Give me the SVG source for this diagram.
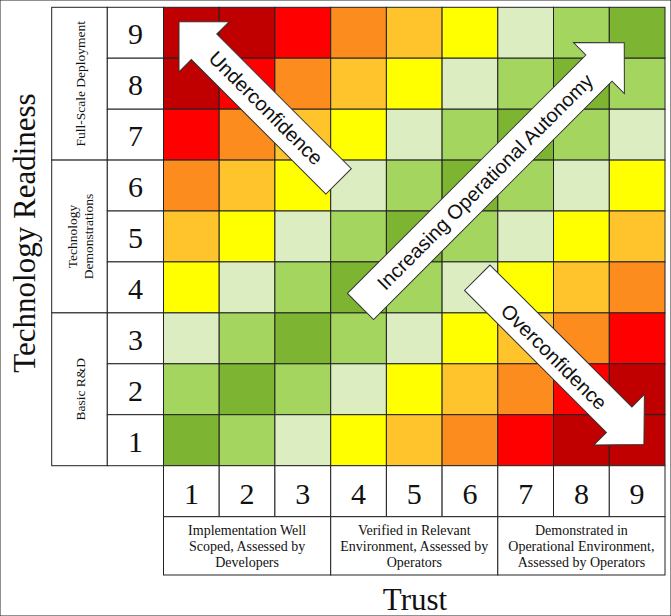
<svg xmlns="http://www.w3.org/2000/svg" width="671" height="616" viewBox="0 0 671 616">
<style>
.c0{fill:#7DB432}.c1{fill:#A3D55F}.c2{fill:#DCEDC2}.c3{fill:#FFFF00}.c4{fill:#FFC42B}.c5{fill:#FC8C1E}.c6{fill:#FF0000}.c7{fill:#C00000}.c8{fill:#C00000}
rect{stroke:#222;stroke-width:1}
.box{fill:#fff}
.num{font-family:"Liberation Serif","Times New Roman",serif;font-size:30px;fill:#111;text-anchor:middle}
.small{font-family:"Liberation Serif","Times New Roman",serif;font-size:13.5px;fill:#111;text-anchor:middle}
.desc{font-family:"Liberation Serif","Times New Roman",serif;font-size:14px;fill:#111;text-anchor:middle}
.big{font-family:"Liberation Serif","Times New Roman",serif;font-size:31px;fill:#111;text-anchor:middle}
.arrow{fill:#fff;stroke:#333;stroke-width:1}
.atext{font-family:"Liberation Sans",Arial,sans-serif;font-size:20px;fill:#111;text-anchor:middle}
</style>
<rect x="0" y="0" width="671" height="616" fill="#fff" stroke="none"/>
<g id="matrix">
<g transform="translate(0,7.3)">
<rect class="c8" x="163.5" width="55.7" height="50.9"/><rect class="c7" x="219.2" width="55.7" height="50.9"/><rect class="c6" x="274.9" width="55.8" height="50.9"/><rect class="c5" x="330.7" width="55.7" height="50.9"/><rect class="c4" x="386.4" width="55.7" height="50.9"/><rect class="c3" x="442.1" width="55.7" height="50.9"/><rect class="c2" x="497.8" width="55.7" height="50.9"/><rect class="c1" x="553.5" width="55.8" height="50.9"/><rect class="c0" x="609.3" width="55.7" height="50.9"/>
</g>
<g transform="translate(0,58.2)">
<rect class="c7" x="163.5" width="55.7" height="51"/><rect class="c6" x="219.2" width="55.7" height="51"/><rect class="c5" x="274.9" width="55.8" height="51"/><rect class="c4" x="330.7" width="55.7" height="51"/><rect class="c3" x="386.4" width="55.7" height="51"/><rect class="c2" x="442.1" width="55.7" height="51"/><rect class="c1" x="497.8" width="55.7" height="51"/><rect class="c0" x="553.5" width="55.8" height="51"/><rect class="c1" x="609.3" width="55.7" height="51"/>
</g>
<g transform="translate(0,109.2)">
<rect class="c6" x="163.5" width="55.7" height="50.9"/><rect class="c5" x="219.2" width="55.7" height="50.9"/><rect class="c4" x="274.9" width="55.8" height="50.9"/><rect class="c3" x="330.7" width="55.7" height="50.9"/><rect class="c2" x="386.4" width="55.7" height="50.9"/><rect class="c1" x="442.1" width="55.7" height="50.9"/><rect class="c0" x="497.8" width="55.7" height="50.9"/><rect class="c1" x="553.5" width="55.8" height="50.9"/><rect class="c2" x="609.3" width="55.7" height="50.9"/>
</g>
<g transform="translate(0,160.1)">
<rect class="c5" x="163.5" width="55.7" height="50.9"/><rect class="c4" x="219.2" width="55.7" height="50.9"/><rect class="c3" x="274.9" width="55.8" height="50.9"/><rect class="c2" x="330.7" width="55.7" height="50.9"/><rect class="c1" x="386.4" width="55.7" height="50.9"/><rect class="c0" x="442.1" width="55.7" height="50.9"/><rect class="c1" x="497.8" width="55.7" height="50.9"/><rect class="c2" x="553.5" width="55.8" height="50.9"/><rect class="c3" x="609.3" width="55.7" height="50.9"/>
</g>
<g transform="translate(0,211)">
<rect class="c4" x="163.5" width="55.7" height="50.9"/><rect class="c3" x="219.2" width="55.7" height="50.9"/><rect class="c2" x="274.9" width="55.8" height="50.9"/><rect class="c1" x="330.7" width="55.7" height="50.9"/><rect class="c0" x="386.4" width="55.7" height="50.9"/><rect class="c1" x="442.1" width="55.7" height="50.9"/><rect class="c2" x="497.8" width="55.7" height="50.9"/><rect class="c3" x="553.5" width="55.8" height="50.9"/><rect class="c4" x="609.3" width="55.7" height="50.9"/>
</g>
<g transform="translate(0,261.9)">
<rect class="c3" x="163.5" width="55.7" height="51"/><rect class="c2" x="219.2" width="55.7" height="51"/><rect class="c1" x="274.9" width="55.8" height="51"/><rect class="c0" x="330.7" width="55.7" height="51"/><rect class="c1" x="386.4" width="55.7" height="51"/><rect class="c2" x="442.1" width="55.7" height="51"/><rect class="c3" x="497.8" width="55.7" height="51"/><rect class="c4" x="553.5" width="55.8" height="51"/><rect class="c5" x="609.3" width="55.7" height="51"/>
</g>
<g transform="translate(0,312.9)">
<rect class="c2" x="163.5" width="55.7" height="50.9"/><rect class="c1" x="219.2" width="55.7" height="50.9"/><rect class="c0" x="274.9" width="55.8" height="50.9"/><rect class="c1" x="330.7" width="55.7" height="50.9"/><rect class="c2" x="386.4" width="55.7" height="50.9"/><rect class="c3" x="442.1" width="55.7" height="50.9"/><rect class="c4" x="497.8" width="55.7" height="50.9"/><rect class="c5" x="553.5" width="55.8" height="50.9"/><rect class="c6" x="609.3" width="55.7" height="50.9"/>
</g>
<g transform="translate(0,363.8)">
<rect class="c1" x="163.5" width="55.7" height="50.9"/><rect class="c0" x="219.2" width="55.7" height="50.9"/><rect class="c1" x="274.9" width="55.8" height="50.9"/><rect class="c2" x="330.7" width="55.7" height="50.9"/><rect class="c3" x="386.4" width="55.7" height="50.9"/><rect class="c4" x="442.1" width="55.7" height="50.9"/><rect class="c5" x="497.8" width="55.7" height="50.9"/><rect class="c6" x="553.5" width="55.8" height="50.9"/><rect class="c7" x="609.3" width="55.7" height="50.9"/>
</g>
<g transform="translate(0,414.7)">
<rect class="c0" x="163.5" width="55.7" height="51"/><rect class="c1" x="219.2" width="55.7" height="51"/><rect class="c2" x="274.9" width="55.8" height="51"/><rect class="c3" x="330.7" width="55.7" height="51"/><rect class="c4" x="386.4" width="55.7" height="51"/><rect class="c5" x="442.1" width="55.7" height="51"/><rect class="c6" x="497.8" width="55.7" height="51"/><rect class="c7" x="553.5" width="55.8" height="51"/><rect class="c8" x="609.3" width="55.7" height="51"/>
</g>
</g>
<g id="readiness-levels">
<rect class="box" x="51.7" y="7.3" width="55.6" height="152.8"/>
<rect class="box" x="51.7" y="160.1" width="55.6" height="152.8"/>
<rect class="box" x="51.7" y="312.9" width="55.6" height="152.8"/>
<rect class="box" x="107.3" y="7.3" width="56.2" height="50.9"/>
<rect class="box" x="107.3" y="58.2" width="56.2" height="51"/>
<rect class="box" x="107.3" y="109.2" width="56.2" height="50.9"/>
<rect class="box" x="107.3" y="160.1" width="56.2" height="50.9"/>
<rect class="box" x="107.3" y="211" width="56.2" height="50.9"/>
<rect class="box" x="107.3" y="261.9" width="56.2" height="51"/>
<rect class="box" x="107.3" y="312.9" width="56.2" height="50.9"/>
<rect class="box" x="107.3" y="363.8" width="56.2" height="50.9"/>
<rect class="box" x="107.3" y="414.7" width="56.2" height="51"/>
<text class="num" x="135.4" y="44">9</text>
<text class="num" x="135.4" y="95">8</text>
<text class="num" x="135.4" y="146">7</text>
<text class="num" x="135.4" y="197">6</text>
<text class="num" x="135.4" y="248">5</text>
<text class="num" x="135.4" y="299">4</text>
<text class="num" x="135.4" y="350">3</text>
<text class="num" x="135.4" y="401">2</text>
<text class="num" x="135.4" y="452">1</text>
<text class="small" transform="translate(85,83.7) rotate(-90)">Full-Scale Deployment</text>
<text class="small" transform="translate(76.8,236.5) rotate(-90)">Technology</text>
<text class="small" transform="translate(93,236.5) rotate(-90)">Demonstrations</text>
<text class="small" transform="translate(85,389.3) rotate(-90)">Basic R&amp;D</text>
</g>
<g id="trust-levels">
<rect class="box" x="163.5" y="465.7" width="55.7" height="51"/>
<rect class="box" x="219.2" y="465.7" width="55.7" height="51"/>
<rect class="box" x="274.9" y="465.7" width="55.8" height="51"/>
<rect class="box" x="330.7" y="465.7" width="55.7" height="51"/>
<rect class="box" x="386.4" y="465.7" width="55.7" height="51"/>
<rect class="box" x="442.1" y="465.7" width="55.7" height="51"/>
<rect class="box" x="497.8" y="465.7" width="55.7" height="51"/>
<rect class="box" x="553.5" y="465.7" width="55.8" height="51"/>
<rect class="box" x="609.3" y="465.7" width="55.7" height="51"/>
<text class="num" x="191.4" y="503.5">1</text>
<text class="num" x="247.1" y="503.5">2</text>
<text class="num" x="302.8" y="503.5">3</text>
<text class="num" x="358.5" y="503.5">4</text>
<text class="num" x="414.3" y="503.5">5</text>
<text class="num" x="470" y="503.5">6</text>
<text class="num" x="525.7" y="503.5">7</text>
<text class="num" x="581.4" y="503.5">8</text>
<text class="num" x="637.1" y="503.5">9</text>
<rect class="box" x="163.5" y="516.7" width="167.2" height="58.3"/>
<rect class="box" x="330.7" y="516.7" width="167.1" height="58.3"/>
<rect class="box" x="497.8" y="516.7" width="167.2" height="58.3"/>
<text class="desc" x="247.1" y="535">Implementation Well</text>
<text class="desc" x="247.1" y="551">Scoped, Assessed by</text>
<text class="desc" x="247.1" y="567">Developers</text>
<text class="desc" x="414.3" y="535">Verified in Relevant</text>
<text class="desc" x="414.3" y="551">Environment, Assessed by</text>
<text class="desc" x="414.3" y="567">Operators</text>
<text class="desc" x="581.4" y="535">Demonstrated in</text>
<text class="desc" x="581.4" y="551">Operational Environment,</text>
<text class="desc" x="581.4" y="567">Assessed by Operators</text>
</g>
<g id="axis-titles">
<text class="big" transform="translate(35,233) rotate(-90)">Technology Readiness</text>
<text class="big" x="415" y="610">Trust</text>
</g>
<g id="arrows">
<g id="underconfidence">
<polygon class="arrow" transform="translate(338.6,181.4) rotate(-135)" points="0,-18 190.3,-18 190.3,-35.4 225.7,0 190.3,35.4 190.3,18 0,18"/>
<text class="atext" transform="translate(266,108) rotate(45)" dy="0.35em">Underconfidence</text>
</g>
<g id="increasing-autonomy">
<polygon class="arrow" transform="translate(360.5,306.5) rotate(-45)" points="0,-18.5 337.2,-18.5 337.2,-36 373,0 337.2,36 337.2,18.5 0,18.5"/>
<text class="atext" transform="translate(485,181.7) rotate(-45)" dy="0.35em">Increasing Operational Autonomy</text>
</g>
<g id="overconfidence">
<polygon class="arrow" transform="translate(477.25,277.75) rotate(45)" points="0,-18 200.7,-18 200.7,-35.7 235.7,0 200.7,35.7 200.7,18 0,18"/>
<text class="atext" transform="translate(554,356.7) rotate(45)" dy="0.35em">Overconfidence</text>
</g>
</g>
</svg>
